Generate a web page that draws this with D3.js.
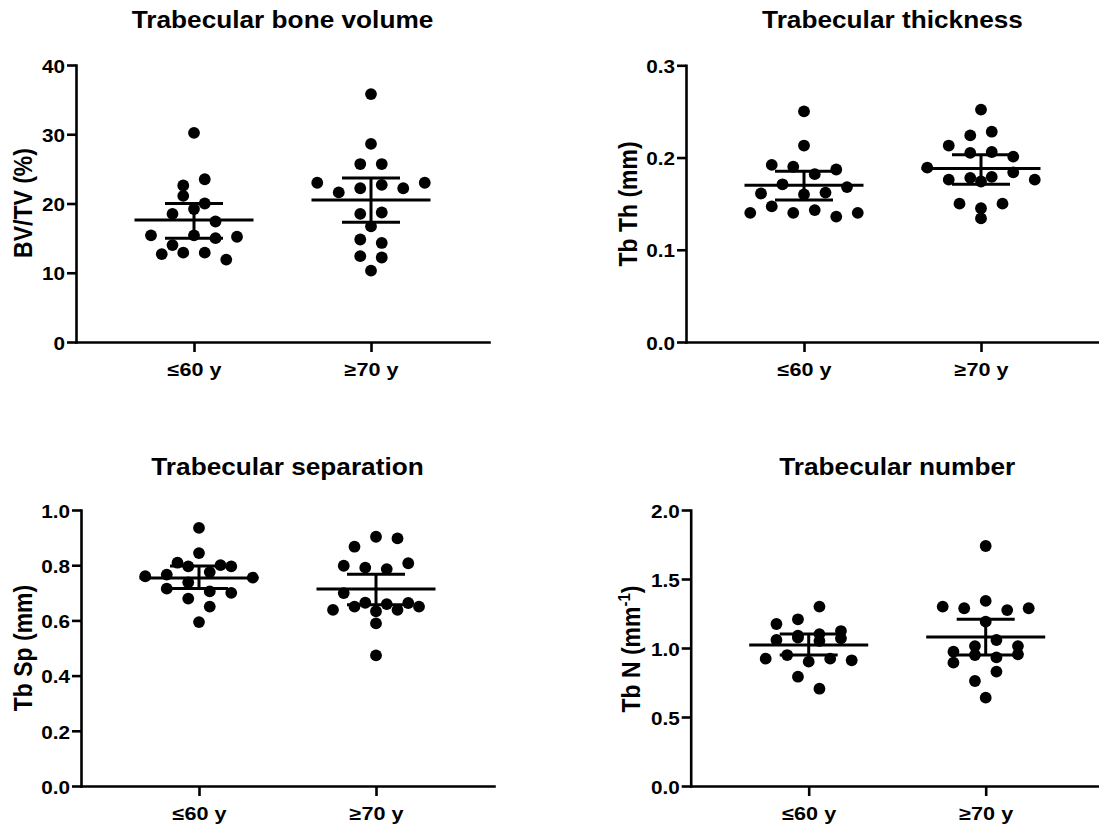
<!DOCTYPE html>
<html><head><meta charset="utf-8">
<script src="https://cdn.jsdelivr.net/npm/d3@7"></script>
<style>
body{margin:0;background:#fff}
svg text{font-family:"Liberation Sans",Arial,Helvetica,sans-serif;font-weight:bold;fill:#000}
</style></head>
<body><svg id="chart" width="1099" height="831"></svg>
<script>
// ---------- data ----------
const categories = ["≤60 y", "≥70 y"];
const titles = ["Trabecular bone volume", "Trabecular thickness", "Trabecular separation", "Trabecular number"];
const yLabels = ["BV/TV (%)", "Tb Th (mm)", "Tb Sp (mm)", "Tb N (mm"];

const bvtvTicks = [0, 10, 20, 30, 40];
const tbthTicks = [0, 0.1, 0.2, 0.3];
const tbspTicks = [0, 0.2, 0.4, 0.6, 0.8, 1.0];
const tbnTicks  = [0, 0.5, 1.0, 1.5, 2.0];

const bvtv60 = [30.2, 22.6, 23.5, 21.1, 18.5, 19.2, 20.0, 17.4, 15.4, 14.0, 15.4, 15.0, 15.2, 12.7, 12.9, 12.9, 11.9];
const bvtv70 = [35.8, 28.6, 25.7, 25.7, 23.0, 21.6, 22.2, 22.7, 22.2, 23.0, 18.5, 18.7, 16.7, 14.8, 14.3, 12.4, 12.2, 10.3];
const tbth60 = [0.250, 0.213, 0.192, 0.190, 0.182, 0.187, 0.161, 0.171, 0.160, 0.162, 0.168, 0.140, 0.147, 0.140, 0.143, 0.136, 0.140];
const tbth70 = [0.252, 0.224, 0.228, 0.213, 0.205, 0.206, 0.201, 0.189, 0.176, 0.178, 0.179, 0.184, 0.176, 0.174, 0.150, 0.145, 0.150, 0.134];
const tbsp60 = [0.935, 0.809, 0.844, 0.800, 0.760, 0.766, 0.796, 0.775, 0.796, 0.755, 0.715, 0.738, 0.705, 0.700, 0.679, 0.650, 0.594];
const tbsp70 = [0.867, 0.903, 0.897, 0.798, 0.791, 0.786, 0.807, 0.699, 0.638, 0.664, 0.650, 0.633, 0.638, 0.659, 0.663, 0.650, 0.589, 0.473];
const tbn60  = [1.208, 1.300, 1.174, 1.089, 1.101, 1.123, 1.058, 1.075, 1.051, 1.070, 0.923, 0.949, 0.901, 0.923, 0.911, 0.792, 0.705];
const tbn70  = [1.739, 1.300, 1.288, 1.341, 1.275, 1.288, 1.191, 0.973, 1.014, 1.058, 1.014, 0.894, 0.949, 0.932, 0.954, 0.761, 0.829, 0.640];

// mean and error-bar limits [≤60, ≥70]
const bvtvMean = [17.6, 20.5],   bvtvHi = [20.0, 23.7],   bvtvLo = [15.0, 17.3];
const tbthMean = [0.170, 0.188], tbthHi = [0.185, 0.203], tbthLo = [0.154, 0.171];
const tbspMean = [0.754, 0.714], tbspHi = [0.797, 0.767], tbspLo = [0.716, 0.657];
const tbnMean  = [1.022, 1.080], tbnHi  = [1.101, 1.209], tbnLo  = [0.949, 0.949];

// ---------- layout ----------
const panels = [
  {ticks: bvtvTicks, fmt: d3.format("d"),  groups: [bvtv60, bvtv70], mean: bvtvMean, hi: bvtvHi, lo: bvtvLo,
   axisX: 76,  top: 65,  bottom: 342, labelX: 31.7, labelY: 203, titleY: 28},
  {ticks: tbthTicks, fmt: d3.format(".1f"), groups: [tbth60, tbth70], mean: tbthMean, hi: tbthHi, lo: tbthLo,
   axisX: 686, top: 65.3, bottom: 342, labelX: 636.7, labelY: 204, titleY: 28},
  {ticks: tbspTicks, fmt: d3.format(".1f"), groups: [tbsp60, tbsp70], mean: tbspMean, hi: tbspHi, lo: tbspLo,
   axisX: 81,  top: 510, bottom: 786, labelX: 31.7, labelY: 648, titleY: 475},
  {ticks: tbnTicks,  fmt: d3.format(".1f"), groups: [tbn60, tbn70],   mean: tbnMean,  hi: tbnHi,  lo: tbnLo,
   axisX: 690.7, top: 510, bottom: 786, labelX: 640, labelY: 649, titleY: 475, sup: "-1"}
];
const AXIS_LEN = 413, R = 5.9, BIN = 13, MAXSTEP = 21.5, MAXHALF = 54;
const svg = d3.select("#chart");
svg.append("rect").attr("width", 1099).attr("height", 831).attr("fill", "#fff");

// row-based scatter spread (points with close values share a row, centred)
function spread(values, y) {
  const idx = values.map((v, i) => i).sort((a, b) => values[b] - values[a] || a - b);
  const rows = [];
  let cur = null;
  idx.forEach(i => {
    const py = y(values[i]);
    if (cur && Math.abs(py - cur.start) <= BIN) cur.items.push(i);
    else { cur = {start: py, items: [i]}; rows.push(cur); }
  });
  const maxN = d3.max(rows, r => r.items.length);
  const step = maxN > 1 ? Math.min(MAXSTEP, 2 * MAXHALF / (maxN - 1)) : 0;
  const off = new Array(values.length).fill(0);
  rows.forEach(r => {
    r.items.sort((a, b) => a - b);
    const n = r.items.length;
    r.items.forEach((i, k) => { off[i] = (k - (n - 1) / 2) * step; });
  });
  return off;
}

panels.forEach((p, pi) => {
  const g = svg.append("g");
  const y = d3.scaleLinear().domain([p.ticks[0], p.ticks[p.ticks.length - 1]]).range([p.bottom, p.top]);
  const x = d3.scalePoint().domain(categories).range([p.axisX, p.axisX + AXIS_LEN]).padding(2 / 3);

  // y axis
  const ya = g.append("g").attr("transform", `translate(${p.axisX},0)`)
    .call(d3.axisLeft(y).tickValues(p.ticks).tickFormat(p.fmt).tickSize(9).tickSizeOuter(0));
  // x axis
  const xa = g.append("g").attr("transform", `translate(0,${p.bottom})`)
    .call(d3.axisBottom(x).tickSize(10).tickSizeOuter(0));
  [ya, xa].forEach(a => {
    a.attr("font-family", null).attr("font-size", null);
    a.selectAll("path.domain").attr("stroke", "#000").attr("stroke-width", 2.6).attr("stroke-linecap", "square");
    a.selectAll(".tick line").attr("stroke", "#000").attr("stroke-width", 2.6);
  });
  ya.selectAll(".tick text").attr("font-size", 18).attr("x", -11 / 1.15).attr("dy", "0.4em")
    .attr("transform", "scale(1.15,1)");
  xa.selectAll(".tick text").attr("font-size", 18).attr("y", 34).attr("dy", 0)
    .attr("transform", "scale(1.2,1)")
    .attr("x", function () { return 0; });

  // title
  g.append("text").attr("text-anchor", "middle").attr("font-size", 23)
    .attr("transform", `translate(${p.axisX + AXIS_LEN / 2},${p.titleY}) scale(1.14,1)`)
    .text(titles[pi]);

  // y label
  const yl = g.append("text").attr("text-anchor", "middle").attr("font-size", 23)
    .attr("transform", `translate(${p.labelX},${p.labelY}) scale(1.12,1) rotate(-90)`);
  yl.append("tspan").text(yLabels[pi]);
  if (p.sup) {
    yl.append("tspan").attr("font-size", 15).attr("dy", -9).text(p.sup);
    yl.append("tspan").attr("dy", 9).text(")");
  }

  // dots, means, error bars
  p.groups.forEach((vals, gi) => {
    const cx = x(categories[gi]);
    const off = spread(vals, y);
    g.append("g").selectAll("circle").data(vals).join("circle")
      .attr("cx", (d, i) => cx + off[i]).attr("cy", d => y(d)).attr("r", R).attr("fill", "#000");
    const lines = [
      [cx - 59.5, y(p.mean[gi]), cx + 59.5, y(p.mean[gi])],
      [cx - 29, y(p.hi[gi]), cx + 29, y(p.hi[gi])],
      [cx - 29, y(p.lo[gi]), cx + 29, y(p.lo[gi])],
      [cx, y(p.hi[gi]), cx, y(p.lo[gi])]
    ];
    g.append("g").selectAll("line").data(lines).join("line")
      .attr("x1", d => d[0]).attr("y1", d => d[1]).attr("x2", d => d[2]).attr("y2", d => d[3])
      .attr("stroke", "#000").attr("stroke-width", 3);
  });
});
</script></body></html>
